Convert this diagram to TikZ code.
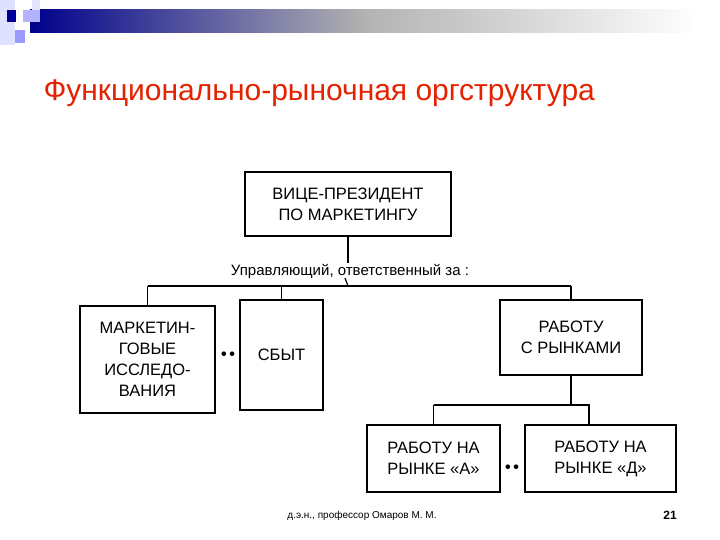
\documentclass[tikz,border=0pt]{standalone}
\usepackage{fontspec}
\setmainfont{Liberation Sans}
\begin{document}
\begin{tikzpicture}[x=1pt,y=-1pt,
  box/.style={draw,line width=2.4pt,inner sep=0pt,font=\fontsize{16.5}{21}\selectfont,align=center},
  ln/.style={line width=1.2pt}]
\useasboundingbox (0,0) rectangle (720,540);
\fill[white] (0,0) rectangle (720,540);
% header decoration
\shade[left color=blue!55!black, right color=white, middle color=gray!60] (30,10) rectangle (700,33);
\fill[blue!12!white] (0,0) rectangle (15,45);
\fill[blue!10!white] (32,0) rectangle (40,12);
\fill[blue!30!white] (23,10) rectangle (40,22);
\fill[blue!40!white] (15,30) rectangle (25,43);
\fill[blue!60!black] (7,10) rectangle (16,22);
% title
\node[anchor=west,text=red!70!orange!90!black,font=\fontsize{30}{34}\selectfont] (title) at (40,93) {Функционально-рыночная оргструктура};
% boxes
\node[box,minimum width=206pt,minimum height=64pt] (vp) at (348,204) {ВИЦЕ-ПРЕЗИДЕНТ\\ПО МАРКЕТИНГУ};
\node[font=\fontsize{15}{17}\selectfont] (lbl) at (350,271) {Управляющий, ответственный за :};
\node[box,minimum width=135pt,minimum height=107pt] (mi) at (147.5,359.5) {МАРКЕТИН-\\ГОВЫЕ\\ИССЛЕДО-\\ВАНИЯ};
\node[box,minimum width=83pt,minimum height=110pt] (sb) at (281.5,355) {СБЫТ};
\node[box,minimum width=142pt,minimum height=75pt] (rr) at (571,337.5) {РАБОТУ\\С РЫНКАМИ};
\node[box,minimum width=133pt,minimum height=67pt] (ra) at (433.5,458.5) {РАБОТУ НА\\РЫНКЕ «А»};
\node[box,minimum width=151pt,minimum height=67pt] (rd) at (600.5,458.5) {РАБОТУ НА\\РЫНКЕ «Д»};
\node[font=\fontsize{16}{18}\bfseries] (d1) at (228,356) {•\,•};
\node[font=\fontsize{16}{18}\bfseries] (d2) at (512,469) {•\,•};
% connectors
\coordinate (bar) at (345,286);
\draw[ln] (vp.south) -- ++(0,26) coordinate (vpe);
\draw[ln] (345,278) -- (vp.south |- bar);
\draw[ln] (mi.north |- bar) -- (rr.north |- bar);
\draw[ln] (mi.north |- bar) -- (mi.north);
\draw[ln] (sb.north |- bar) -- (sb.north);
\draw[ln] (rr.north |- bar) -- (rr.north);
\coordinate (bar2) at (433,405);
\draw[ln] (rr.south) -- (rr.south |- bar2);
\draw[ln] (ra.north |- bar2) -- (589,405) -- (589,425);
\draw[ln] (ra.north |- bar2) -- (ra.north);
% footer
\node[font=\fontsize{10}{12}\selectfont] (ft) at (362,516) {д.э.н., профессор Омаров М. М.};
\node[font=\bfseries\fontsize{12}{14}\selectfont] (pg) at (670,515) {21};
\end{tikzpicture}
\end{document}
